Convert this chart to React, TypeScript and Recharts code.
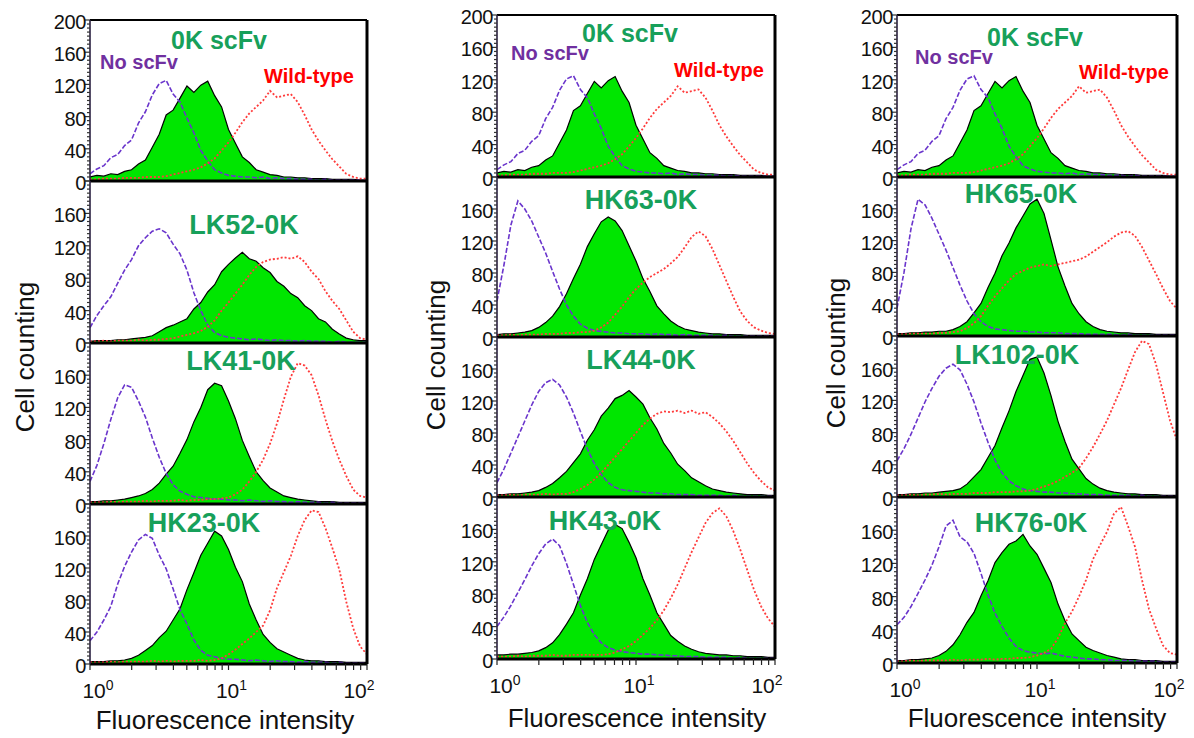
import React from "react";
import { ComposedChart, Area, Line, XAxis, YAxis, ReferenceLine } from "recharts";

// fluorescence channels (log spaced, 10^0 .. 10^2)
const xs = [
  1, 1.122, 1.259, 1.413, 1.585, 1.778, 1.995, 2.239, 2.512, 2.818,
  3.162, 3.548, 3.981, 4.467, 5.012, 5.623, 6.31, 7.079, 7.943, 8.913,
  10, 11.22, 12.59, 14.13, 15.85, 17.78, 19.95, 22.39, 25.12, 28.18,
  31.62, 35.48, 39.81, 44.67, 50.12, 56.23, 63.1, 70.79, 79.43, 89.13, 100,
];

const xTicks = [1, 2, 3, 4, 5, 6, 7, 8, 9, 10, 20, 30, 40, 50, 60, 70, 80, 90, 100];
const xTickExp: Record<number, string> = { 1: "0", 10: "1", 100: "2" };
const yLabels = [0, 40, 80, 120, 160, 200];

// 0K scFv (top row, same control in every column)
const none0K = [
  9, 15, 19, 29, 33, 44, 51, 72, 86, 107,
  121, 125, 108, 98, 78, 60, 38, 25, 14, 10,
  7, 6, 5, 5, 4, 5, 3, 4, 3, 3,
  2, 2, 2, 1, 2, 1, 1, 1, 1, 1, 1,
];
const scfv0K = [
  5, 7, 6, 9, 8, 12, 14, 21, 26, 42,
  58, 82, 88, 103, 118, 110, 119, 124, 106, 92,
  64, 47, 30, 23, 14, 11, 8, 7, 5, 5,
  4, 4, 3, 3, 3, 2, 2, 2, 2, 1, 1,
];
const wt0K = [
  2, 2, 3, 3, 3, 4, 4, 4, 5, 5,
  5, 6, 8, 10, 12, 14, 17, 22, 28, 38,
  48, 60, 73, 84, 92, 100, 112, 104, 106, 108,
  98, 82, 64, 50, 38, 27, 18, 9, 5, 3, 3,
];

// LK52-0K
const noneLK52 = [
  19, 34, 46, 57, 74, 90, 103, 120, 130, 138,
  141, 136, 122, 110, 90, 62, 40, 22, 13, 9,
  7, 6, 5, 4, 5, 4, 3, 4, 3, 3,
  2, 3, 2, 2, 2, 1, 2, 1, 1, 1, 1,
];
const scfvLK52 = [
  2, 3, 3, 3, 4, 4, 5, 6, 7, 9,
  14, 19, 22, 26, 30, 42, 50, 63, 72, 88,
  97, 105, 112, 104, 101, 93, 87, 76, 70, 61,
  56, 46, 40, 30, 26, 17, 11, 6, 4, 3, 3,
];
const wtLK52 = [
  2, 2, 3, 2, 3, 3, 3, 4, 3, 4,
  4, 5, 6, 8, 10, 12, 15, 20, 28, 40,
  50, 61, 72, 84, 94, 100, 103, 104, 106, 104,
  107, 100, 88, 79, 64, 52, 42, 28, 14, 6, 4,
];

// LK41-0K
const noneLK41 = [
  28, 48, 75, 105, 132, 148, 145, 128, 108, 82,
  58, 38, 24, 16, 12, 9, 8, 7, 6, 6,
  5, 5, 4, 5, 4, 3, 4, 3, 3, 2,
  3, 2, 2, 2, 1, 2, 1, 1, 1, 1, 1,
];
const scfvLK41 = [
  3, 3, 4, 4, 5, 6, 8, 10, 13, 18,
  26, 37, 47, 63, 80, 102, 120, 142, 150, 147,
  128, 106, 79, 59, 40, 29, 20, 15, 10, 8,
  6, 5, 4, 3, 3, 3, 2, 2, 2, 2, 2,
];
const wtLK41 = [
  2, 2, 2, 3, 2, 3, 3, 3, 4, 3,
  4, 4, 4, 5, 4, 5, 5, 6, 6, 7,
  8, 12, 18, 28, 40, 55, 75, 100, 130, 158,
  175, 172, 160, 135, 105, 78, 55, 35, 18, 10, 8,
];

// HK23-0K
const noneHK23 = [
  29, 40, 55, 72, 100, 122, 140, 155, 162, 157,
  136, 119, 94, 68, 50, 30, 17, 11, 9, 7,
  6, 6, 5, 4, 5, 4, 3, 4, 3, 3,
  2, 3, 2, 2, 2, 1, 2, 1, 1, 1, 1,
];
const scfvHK23 = [
  3, 3, 3, 4, 4, 5, 7, 11, 17, 23,
  33, 41, 55, 69, 93, 114, 136, 151, 166, 160,
  143, 121, 103, 75, 55, 37, 27, 19, 15, 11,
  7, 5, 4, 4, 3, 3, 3, 2, 2, 2, 2,
];
const wtHK23 = [
  2, 2, 2, 3, 2, 3, 3, 3, 3, 4,
  3, 4, 3, 4, 4, 4, 5, 4, 5, 7,
  12, 18, 25, 32, 40, 48, 67, 95, 115, 135,
  160, 180, 192, 190, 170, 145, 118, 78, 45, 22, 12,
];

// HK63-0K
const noneHK63 = [
  45, 90, 140, 170, 160, 145, 125, 105, 82, 60,
  40, 26, 16, 11, 8, 7, 6, 5, 5, 4,
  4, 4, 3, 4, 3, 3, 2, 3, 2, 2,
  2, 2, 1, 2, 1, 1, 1, 1, 1, 1, 1,
];
const scfvHK63 = [
  3, 4, 4, 5, 6, 8, 12, 18, 26, 38,
  54, 73, 91, 113, 129, 144, 150, 145, 133, 114,
  95, 73, 57, 39, 29, 20, 14, 10, 8, 6,
  5, 4, 4, 3, 3, 3, 2, 2, 2, 2, 2,
];
const wtHK63 = [
  2, 2, 3, 2, 3, 3, 3, 4, 4, 4,
  5, 5, 6, 6, 8, 12, 18, 28, 38, 50,
  60, 68, 75, 80, 85, 92, 100, 112, 125, 132,
  126, 110, 90, 70, 50, 32, 20, 12, 8, 5, 4,
];

// LK44-0K
const noneLK44 = [
  18, 35, 55, 75, 95, 115, 132, 143, 147, 140,
  125, 105, 82, 60, 42, 28, 18, 12, 9, 8,
  7, 6, 5, 5, 4, 4, 3, 3, 3, 2,
  2, 2, 2, 1, 2, 1, 1, 1, 1, 1, 1,
];
const scfvLK44 = [
  3, 3, 4, 4, 5, 6, 8, 12, 17, 24,
  32, 43, 54, 71, 84, 101, 111, 123, 127, 133,
  125, 116, 99, 85, 67, 55, 41, 33, 24, 19,
  14, 10, 8, 6, 5, 4, 3, 3, 3, 2, 2,
];
const wtLK44 = [
  2, 2, 3, 2, 3, 3, 3, 4, 3, 4,
  4, 6, 10, 15, 22, 30, 40, 50, 60, 70,
  80, 90, 98, 104, 107, 106, 108, 105, 108, 104,
  106, 100, 92, 82, 70, 56, 42, 30, 20, 12, 8,
];

// HK43-0K
const noneHK43 = [
  40, 52, 66, 82, 98, 115, 130, 142, 148, 140,
  118, 92, 66, 45, 30, 20, 14, 11, 9, 8,
  7, 6, 6, 5, 5, 4, 4, 3, 3, 3,
  2, 2, 2, 2, 1, 2, 1, 1, 1, 1, 1,
];
const scfvHK43 = [
  5, 5, 6, 6, 7, 8, 10, 14, 20, 30,
  43, 57, 79, 99, 123, 141, 159, 166, 161, 144,
  125, 99, 79, 57, 43, 29, 22, 16, 12, 9,
  7, 6, 5, 5, 4, 4, 3, 3, 3, 2, 2,
];
const wtHK43 = [
  3, 3, 3, 4, 3, 4, 4, 4, 5, 4,
  4, 5, 5, 5, 5, 5, 6, 8, 12, 16,
  22, 30, 38, 48, 60, 75, 92, 112, 132, 150,
  168, 180, 186, 176, 158, 135, 110, 85, 65, 50, 40,
];

// HK65-0K
const noneHK65 = [
  35, 80, 135, 172, 165, 148, 128, 108, 86, 64,
  44, 28, 18, 12, 9, 8, 7, 6, 6, 5,
  5, 4, 4, 4, 3, 3, 3, 2, 2, 2,
  2, 2, 1, 2, 1, 1, 1, 1, 1, 1, 1,
];
const scfvHK65 = [
  3, 3, 4, 4, 5, 5, 6, 6, 8, 12,
  18, 29, 41, 61, 79, 101, 117, 136, 151, 166,
  172, 154, 121, 87, 63, 41, 28, 18, 12, 8,
  6, 5, 4, 4, 3, 3, 3, 2, 2, 2, 2,
];
const wtHK65 = [
  2, 2, 3, 3, 3, 3, 4, 4, 5, 6,
  10, 16, 25, 38, 50, 60, 70, 78, 82, 86,
  88, 90, 88, 90, 92, 94, 96, 100, 106, 112,
  118, 125, 130, 132, 126, 112, 95, 78, 60, 44, 34,
];

// LK102-0K
const noneLK102 = [
  45, 60, 78, 98, 118, 135, 150, 160, 165, 158,
  140, 118, 92, 68, 46, 30, 20, 14, 10, 8,
  7, 6, 6, 5, 5, 4, 4, 3, 3, 3,
  2, 2, 2, 2, 1, 2, 1, 1, 1, 1, 1,
];
const scfvLK102 = [
  3, 3, 4, 4, 5, 5, 6, 7, 8, 10,
  16, 25, 34, 49, 64, 86, 107, 131, 151, 171,
  174, 154, 126, 94, 69, 47, 35, 23, 16, 11,
  8, 6, 5, 4, 4, 3, 3, 3, 2, 2, 2,
];
const wtLK102 = [
  2, 2, 3, 2, 3, 3, 4, 3, 4, 4,
  4, 5, 5, 5, 6, 6, 6, 7, 7, 8,
  10, 13, 16, 20, 25, 30, 36, 48, 62, 78,
  95, 115, 135, 158, 180, 194, 190, 165, 130, 95, 70,
];

// HK76-0K
const noneHK76 = [
  46, 55, 68, 84, 100, 118, 140, 165, 172, 152,
  146, 132, 108, 82, 60, 44, 30, 20, 15, 13,
  12, 11, 12, 10, 8, 7, 6, 5, 5, 4,
  4, 3, 3, 3, 2, 2, 2, 2, 1, 1, 1,
];
const scfvHK76 = [
  3, 3, 4, 4, 5, 6, 9, 14, 22, 34,
  49, 61, 81, 99, 121, 133, 143, 147, 155, 141,
  131, 114, 97, 71, 51, 35, 27, 19, 15, 12,
  9, 7, 5, 4, 4, 3, 3, 3, 2, 2, 2,
];
const wtHK76 = [
  2, 2, 3, 2, 3, 3, 3, 3, 4, 3,
  4, 4, 4, 5, 4, 5, 5, 6, 6, 7,
  9, 12, 17, 30, 48, 62, 80, 100, 125, 142,
  158, 180, 188, 165, 140, 100, 65, 42, 21, 12, 10,
];

const build = (none: number[], scfv: number[], wt: number[]) =>
  xs.map((x, i) => ({ x, none: none[i], scfv: scfv[i], wt: wt[i] }));

const columns = [
  {
    left: 90, width: 277, rows: [20, 181, 343, 504, 664],
    panels: [
      build(none0K, scfv0K, wt0K),
      build(noneLK52, scfvLK52, wtLK52),
      build(noneLK41, scfvLK41, wtLK41),
      build(noneHK23, scfvHK23, wtHK23),
    ],
  },
  {
    left: 497, width: 278, rows: [15, 177, 337, 497, 659],
    panels: [
      build(none0K, scfv0K, wt0K),
      build(noneHK63, scfvHK63, wtHK63),
      build(noneLK44, scfvLK44, wtLK44),
      build(noneHK43, scfvHK43, wtHK43),
    ],
  },
  {
    left: 897, width: 280, rows: [15, 177, 336, 497, 663],
    panels: [
      build(none0K, scfv0K, wt0K),
      build(noneHK65, scfvHK65, wtHK65),
      build(noneLK102, scfvLK102, wtLK102),
      build(noneHK76, scfvHK76, wtHK76),
    ],
  },
];

const GREEN_TXT = "#17a05a";
const notes = [
  { t: "0K scFv", x: 219, y: 40, s: 25, c: GREEN_TXT },
  { t: "No scFv", x: 139, y: 62, s: 20, c: "#7030a0" },
  { t: "Wild-type", x: 309, y: 76, s: 20, c: "#ff0000" },
  { t: "LK52-0K", x: 244, y: 225, s: 27, c: GREEN_TXT },
  { t: "LK41-0K", x: 241, y: 361, s: 27, c: GREEN_TXT },
  { t: "HK23-0K", x: 204, y: 523, s: 27, c: GREEN_TXT },
  { t: "0K scFv", x: 630, y: 33, s: 25, c: GREEN_TXT },
  { t: "No scFv", x: 550, y: 53, s: 20, c: "#7030a0" },
  { t: "Wild-type", x: 719, y: 70, s: 20, c: "#ff0000" },
  { t: "HK63-0K", x: 641, y: 200, s: 27, c: GREEN_TXT },
  { t: "LK44-0K", x: 641, y: 360, s: 27, c: GREEN_TXT },
  { t: "HK43-0K", x: 605, y: 521, s: 27, c: GREEN_TXT },
  { t: "0K scFv", x: 1035, y: 37, s: 25, c: GREEN_TXT },
  { t: "No scFv", x: 954, y: 57, s: 20, c: "#7030a0" },
  { t: "Wild-type", x: 1124, y: 72, s: 20, c: "#ff0000" },
  { t: "HK65-0K", x: 1021, y: 194, s: 27, c: GREEN_TXT },
  { t: "LK102-0K", x: 1017, y: 355, s: 27, c: GREEN_TXT },
  { t: "HK76-0K", x: 1031, y: 523, s: 27, c: GREEN_TXT },
];
const yTitles = [{ x: 25, y: 357 }, { x: 436, y: 355 }, { x: 836, y: 353 }];
const xTitles = [{ x: 225, y: 720 }, { x: 637, y: 718 }, { x: 1037, y: 718 }];

const FONT = '"Liberation Sans", Arial, Helvetica, sans-serif';
const yTicks = Array.from({ length: 41 }, (_, i) => i * 5);
const PAD = 14; // room above/below the plot for tick labels
const RIGHT = 26;
const X_LABEL_SHIFT: Record<string, number> = { "0": 8, "1": 3, "2": -8 };

function YTick(props: any) {
  const { x, y, payload, top } = props;
  const v = payload.value;
  const major = v % 40 === 0;
  const show = yLabels.includes(v) && (v < 200 || top);
  return (
    <g>
      <line x1={x} x2={x - (major ? 6 : 3)} y1={y} y2={y} stroke="#333" strokeWidth={1.2} />
      {show && (
        <text x={x - 4} y={y + 2} dy="0.35em" textAnchor="end" fontSize={20}
          fill="#111" style={{ fontFamily: FONT, letterSpacing: -0.4 }}>
          {v}
        </text>
      )}
    </g>
  );
}

function XTick(props: any) {
  const { x, y, payload } = props;
  const exp = xTickExp[payload.value];
  return (
    <g>
      <line x1={x} x2={x} y1={y} y2={y + 6} stroke="#222" strokeWidth={1.2} />
      {exp !== undefined && (
        <text x={x + X_LABEL_SHIFT[exp]} y={y + 34} textAnchor="middle" fontSize={21} fill="#111"
          style={{ fontFamily: FONT }}>
          10<tspan dy={-8} fontSize={14}>{exp}</tspan>
        </text>
      )}
    </g>
  );
}

function Panel({ data, left, width, top, height, row, last }: any) {
  const axisH = last ? 44 : 0;
  return (
    <div style={{ position: "absolute", left: left - 60, top: top - PAD }}>
      <ComposedChart width={width + 60 + RIGHT} height={height + 2 * PAD + axisH} data={data}
        margin={{ top: PAD, right: RIGHT, bottom: PAD, left: 0 }}>
        <XAxis type="number" dataKey="x" scale="log" domain={[1, 100]} allowDataOverflow
          ticks={xTicks} interval={0} hide={!last} height={axisH} tickSize={0} tickMargin={0}
          axisLine={false} tickLine={false} tick={(p: any) => <XTick {...p} />} />
        <YAxis type="number" domain={[0, 200]} allowDataOverflow width={60} ticks={yTicks}
          interval={0} tickSize={0} tickMargin={0} tickLine={false}
          axisLine={{ stroke: "#2a2040", strokeWidth: 1.6 }}
          tick={(p: any) => <YTick {...p} top={row === 0} />} />
        <Area type="linear" dataKey="scfv" stroke="#000" strokeWidth={1.2} fill="#00e600"
          fillOpacity={1} dot={false} activeDot={false} isAnimationActive={false} />
        <Line type="linear" dataKey="none" stroke="#6a35cc" strokeWidth={1.6}
          strokeDasharray="5 2" dot={false} activeDot={false} isAnimationActive={false} />
        <Line type="linear" dataKey="wt" stroke="#ff3b3b" strokeWidth={1.8}
          strokeDasharray="2 2" dot={false} activeDot={false} isAnimationActive={false} />
        <ReferenceLine y={200} stroke="#000" strokeWidth={2} />
        <ReferenceLine y={0} stroke="#000" strokeWidth={3} />
        <ReferenceLine x={100} stroke="#000" strokeWidth={3} />
      </ComposedChart>
    </div>
  );
}

export default function App() {
  return (
    <div style={{ position: "absolute", left: 0, top: 0, width: 1194, height: 738,
      background: "#fff", fontFamily: FONT, overflow: "hidden" }}>
      {columns.map((col, ci) =>
        col.panels.map((data, ri) => (
          <Panel key={`${ci}-${ri}`} data={data} left={col.left} width={col.width}
            top={col.rows[ri]} height={col.rows[ri + 1] - col.rows[ri]} row={ri} last={ri === 3} />
        ))
      )}
      {notes.map((n, i) => (
        <div key={i} style={{ position: "absolute", left: n.x, top: n.y,
          transform: "translate(-50%, -50%)", fontSize: n.s, fontWeight: 700, color: n.c,
          lineHeight: 1, whiteSpace: "nowrap" }}>
          {n.t}
        </div>
      ))}
      {yTitles.map((p, i) => (
        <div key={i} style={{ position: "absolute", left: p.x, top: p.y,
          transform: "translate(-50%, -50%) rotate(-90deg)", fontSize: 26, color: "#111",
          lineHeight: 1, whiteSpace: "nowrap" }}>
          Cell counting
        </div>
      ))}
      {xTitles.map((p, i) => (
        <div key={i} style={{ position: "absolute", left: p.x, top: p.y,
          transform: "translate(-50%, -50%)", fontSize: 26, color: "#111",
          lineHeight: 1, whiteSpace: "nowrap" }}>
          Fluorescence intensity
        </div>
      ))}
    </div>
  );
}
